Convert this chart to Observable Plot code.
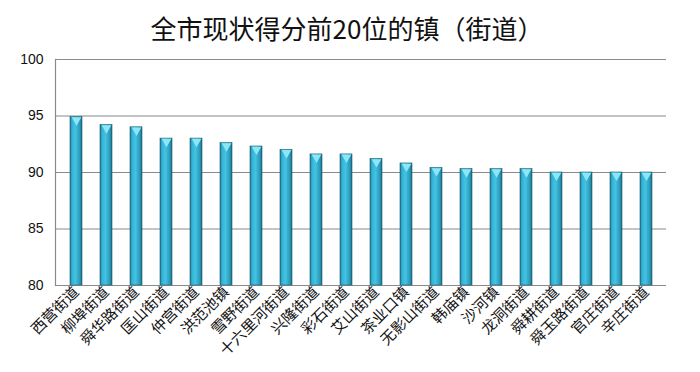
<!DOCTYPE html>
<html><head><meta charset="utf-8">
<script src="https://cdn.jsdelivr.net/npm/d3@7"></script>
<script src="https://cdn.jsdelivr.net/npm/@observablehq/plot@0.6"></script>
<style>
body{margin:0;background:#fff;}
#title{height:45px;line-height:56px;text-align:center;font-family:"Noto Sans CJK SC",sans-serif;font-size:26px;color:#111;padding-right:6px;}
</style></head>
<body>
<div id="title">全市现状得分前20位的镇（街道）</div>
<div id="chart"></div>
<script>
const towns = ["西营街道","柳埠街道","舜华路街道","匡山街道","仲宫街道","洪范池镇","雪野街道","十六里河街道","兴隆街道","彩石街道","艾山街道","茶业口镇","无影山街道","韩庙镇","沙河镇","龙洞街道","舜耕街道","舜玉路街道","官庄街道","辛庄街道"];
const scores = [94.9,94.2,94.0,93.0,93.0,92.6,92.3,92.0,91.6,91.6,91.2,90.8,90.4,90.3,90.3,90.3,90.0,90.0,90.0,90.0];
const yTicks = [80,85,90,95,100];

const data = towns.map((t,i)=>({town:t, score:scores[i]}));

const chart = Plot.plot({
  width:700, height:327,
  marginTop:14, marginLeft:55, marginRight:34, marginBottom:87,
  style:{fontFamily:"Noto Sans CJK SC, sans-serif", fontSize:"13px", color:"#111", background:"#fff"},
  x:{domain:towns, paddingInner:0.6, paddingOuter:0.3, label:null},
  y:{domain:[80,100], label:null},
  marks:[
    Plot.ruleY(yTicks,{stroke:"#8a8a8a", strokeWidth:1.2}),
    Plot.frame({anchor:"left", stroke:"#8a8a8a", strokeWidth:1.2}),
    Plot.barY(data,{x:"town", y1:80, y2:"score", fill:"url(#barGrad)", stroke:"#1a5f72", strokeWidth:0.6}),
    Plot.dot(data,{x:"town", y:"score", symbol:"triangle", rotate:180, r:3.6, dy:3, fill:"#8be6f8", stroke:"none"}),
    Plot.axisY(yTicks,{tickSize:0, tickPadding:12, fontSize:14, fontFamily:"Liberation Sans, sans-serif"}),
    Plot.axisX({tickSize:0, tickRotate:-45, tickPadding:4, fontSize:15, fontFamily:"Noto Sans CJK SC, sans-serif"})
  ]
});
const ns="http://www.w3.org/2000/svg";
const defs=document.createElementNS(ns,"defs");
defs.innerHTML=`<linearGradient id="barGrad" x1="0" x2="1" y1="0" y2="0">
<stop offset="0" stop-color="#1d6c82"/>
<stop offset="0.15" stop-color="#33b0d3"/>
<stop offset="0.45" stop-color="#42c4e5"/>
<stop offset="0.85" stop-color="#2b95b4"/>
<stop offset="1" stop-color="#1b6377"/>
</linearGradient>`;
chart.insertBefore(defs, chart.firstChild);
document.getElementById("chart").appendChild(chart);
</script>
</body></html>
